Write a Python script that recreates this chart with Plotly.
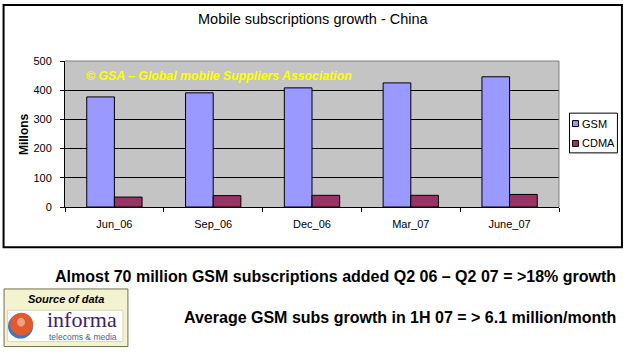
import plotly.graph_objects as go

categories = ["Jun_06", "Sep_06", "Dec_06", "Mar_07", "June_07"]
gsm = [377, 391, 408, 425, 446]
cdma = [34, 39, 40, 40, 43]
y_ticks = [0, 100, 200, 300, 400, 500]

W, H = 626, 354
L, R, T, B = 65, 559.5, 60.5, 207.5


def px(x):
    return (x - L) / (R - L)


def py(y):
    return (B - y) / (B - T)


FONT = "Arial, Liberation Sans, sans-serif"

fig = go.Figure()
fig.add_trace(go.Bar(x=categories, y=gsm, name="GSM",
                     marker=dict(color="#9999ff", line=dict(color="black", width=1))))
fig.add_trace(go.Bar(x=categories, y=cdma, name="CDMA",
                     marker=dict(color="#993366", line=dict(color="black", width=1))))

shapes = []
# outer chart border
shapes.append(dict(type="rect", xref="paper", yref="paper", x0=px(3.5), x1=px(622.5),
                   y0=py(248), y1=py(4), line=dict(color="black", width=2), layer="below"))
# plot area top / right gray border
shapes.append(dict(type="line", xref="paper", yref="paper", x0=0, x1=1, y0=1, y1=1,
                   line=dict(color="#808080", width=1), layer="above"))
shapes.append(dict(type="line", xref="paper", yref="paper", x0=1, x1=1, y0=0, y1=1,
                   line=dict(color="#808080", width=1), layer="above"))
# legend
shapes.append(dict(type="rect", xref="paper", yref="paper", x0=px(570), x1=px(618),
                   y0=py(153), y1=py(113), line=dict(color="black", width=1), fillcolor="white"))
shapes.append(dict(type="rect", xref="paper", yref="paper", x0=px(573), x1=px(579),
                   y0=py(126.5), y1=py(120.5), line=dict(color="black", width=1), fillcolor="#9999ff"))
shapes.append(dict(type="rect", xref="paper", yref="paper", x0=px(573), x1=px(579),
                   y0=py(146.5), y1=py(140.5), line=dict(color="black", width=1), fillcolor="#993366"))
# source of data box
shapes.append(dict(type="rect", xref="paper", yref="paper", x0=px(4), x1=px(128),
                   y0=py(348), y1=py(290), line=dict(color="#707050", width=1), fillcolor="#f3f3cf"))
shapes.append(dict(type="rect", xref="paper", yref="paper", x0=px(7.5), x1=px(123),
                   y0=py(343), y1=py(311.5), line=dict(color="#d8d8c0", width=1), fillcolor="white"))
# globe
shapes.append(dict(type="circle", xref="paper", yref="paper", x0=px(8), x1=px(33),
                   y0=py(340), y1=py(315), line=dict(width=0), fillcolor="#3f73c4"))
shapes.append(dict(type="circle", xref="paper", yref="paper", x0=px(10), x1=px(33),
                   y0=py(337), y1=py(314), line=dict(width=0), fillcolor="#df5a2c"))
shapes.append(dict(type="circle", xref="paper", yref="paper", x0=px(17), x1=px(25),
                   y0=py(328), y1=py(319), line=dict(width=0), fillcolor="#f0a080"))

annotations = [
    dict(text="Mobile subscriptions growth - China", xref="paper", yref="paper",
         x=px(314), y=py(18), xanchor="center", yanchor="middle", showarrow=False,
         font=dict(family=FONT, size=14.5, color="black")),
    dict(text="<b><i>© GSA – Global mobile Suppliers Association</i></b>", xref="paper", yref="paper",
         x=px(84), y=py(76), xanchor="left", yanchor="middle", showarrow=False,
         font=dict(family=FONT, size=12.3, color="#ffff00")),
    dict(text="<b>Millons</b>", xref="paper", yref="paper", textangle=-90,
         x=px(24), y=py(134), xanchor="center", yanchor="middle", showarrow=False,
         font=dict(family=FONT, size=12, color="black")),
    dict(text="GSM", xref="paper", yref="paper", x=px(581), y=py(123.5),
         xanchor="left", yanchor="middle", showarrow=False,
         font=dict(family=FONT, size=11, color="black")),
    dict(text="CDMA", xref="paper", yref="paper", x=px(581), y=py(143.5),
         xanchor="left", yanchor="middle", showarrow=False,
         font=dict(family=FONT, size=11, color="black")),
    dict(text="<b>Almost 70 million GSM subscriptions added Q2 06 – Q2 07 = >18% growth</b>",
         xref="paper", yref="paper", x=px(619), y=py(277), xanchor="right", yanchor="middle",
         showarrow=False, font=dict(family=FONT, size=16, color="black")),
    dict(text="<b>Average GSM subs growth in 1H 07 = > 6.1 million/month</b>",
         xref="paper", yref="paper", x=px(619), y=py(319), xanchor="right", yanchor="middle",
         showarrow=False, font=dict(family=FONT, size=16, color="black")),
    dict(text="<b><i>Source of data</i></b>", xref="paper", yref="paper", x=px(66), y=py(300.5),
         xanchor="center", yanchor="middle", showarrow=False,
         font=dict(family=FONT, size=11, color="black")),
    dict(text="informa", xref="paper", yref="paper", x=px(82), y=py(320.5),
         xanchor="center", yanchor="middle", showarrow=False,
         font=dict(family="Liberation Serif, DejaVu Serif, serif", size=22, color="#3a2466")),
    dict(text="telecoms & media", xref="paper", yref="paper", x=px(83), y=py(338),
         xanchor="center", yanchor="middle", showarrow=False,
         font=dict(family=FONT, size=8.5, color="#50608c")),
]

fig.update_layout(
    width=W, height=H,
    margin=dict(l=L, r=W - R, t=T, b=H - B, pad=0),
    paper_bgcolor="white",
    plot_bgcolor="#c4c4c4",
    showlegend=False,
    barmode="group",
    bargap=0.44,
    bargroupgap=0,
    shapes=shapes,
    annotations=annotations,
    xaxis=dict(type="category", showline=True, linecolor="black", linewidth=1,
               ticks="outside", tickson="boundaries", ticklen=4, tickcolor="black",
               tickfont=dict(family=FONT, size=11, color="black"), showgrid=False,
               ticklabelstandoff=7),
    yaxis=dict(range=[0, 500], tickvals=y_ticks, showline=True, linecolor="black", linewidth=1,
               ticks="outside", ticklen=4, tickcolor="black", showgrid=True,
               gridcolor="black", gridwidth=1, zeroline=False,
               tickfont=dict(family=FONT, size=11, color="black"), ticklabelstandoff=6),
)

fig.write_html("out.html")
